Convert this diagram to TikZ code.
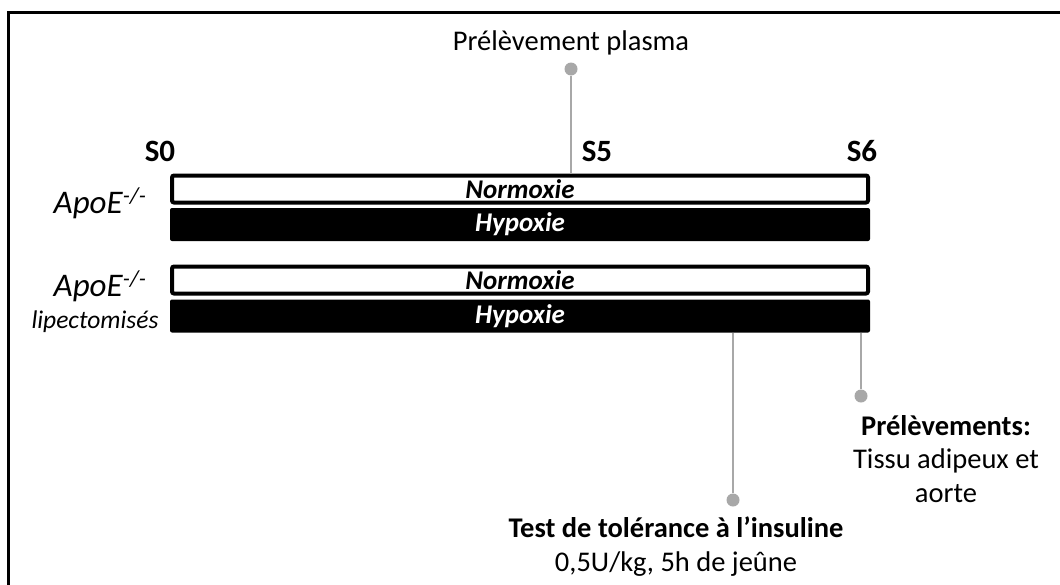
\documentclass[tikz,border=0pt]{standalone}
\usepackage{fontspec}
\setmainfont{Carlito}
\usetikzlibrary{positioning}
\definecolor{pingray}{RGB}{168,168,168}

\begin{document}
\begin{tikzpicture}[x=1pt,y=-1pt,
    whitebar/.style={draw=black,line width=4pt,fill=white,rounded corners=2pt,
      minimum width=696pt,minimum height=27pt,inner sep=0pt,
      font=\fontsize{27}{27}\selectfont\bfseries\itshape},
    blackbar/.style={fill=black,rounded corners=2pt,minimum width=700pt,
      minimum height=33pt,inner sep=0pt,text=white,
      font=\fontsize{27}{27}\selectfont\bfseries\itshape},
    week/.style={font=\fontsize{31}{31}\selectfont\bfseries},
    group/.style={font=\fontsize{33}{33}\selectfont\itshape,anchor=base},
    pindot/.style={circle,fill=pingray,inner sep=0pt,minimum size=13pt},
    pinline/.style={draw=pingray,line width=2pt},
    note/.style={align=center,font=\fontsize{28.5}{33.5}\selectfont}]
    \useasboundingbox (0,0) rectangle (1060,584);
    \draw[line width=3pt] (1062,12) -- (8,12) -- (8,586);

    % semaines
    \node[week] (s0) at (160,151) {S0};
    \node[week] (s5) at (597,151) {S5};
    \node[week] (s6) at (862,151) {S6};

    % groupes
    \node[whitebar] (normA) at (520,189) {Normoxie};
    \node[blackbar] (hypoA) at (520,224.5) {Hypoxie};
    \node[whitebar] (normB) at (520,280) {Normoxie};
    \node[blackbar] (hypoB) at (520,316) {Hypoxie};
    \node[group] (apoA) at (100,213) {ApoE\textsuperscript{-/-}};
    \node[group] (apoB) at (100,296) {ApoE\textsuperscript{-/-}};
    \node[group,font=\fontsize{25.5}{25.5}\selectfont\itshape] (lipo) at (95,328) {lipectomisés};

    % prelevements
    \node[note,anchor=base] (plasma) at (571,50) {Prélèvement plasma};
    \node[pindot] (plasmadot) at (571,69) {};
    \draw[pinline] (plasmadot) -- (plasmadot |- normA.north);

    \node[pindot] (itdot) at (733,500) {};
    \node[note,anchor=base] (itt) at (676,571)
      {\textbf{Test de tolérance à l’insuline}\\0,5U/kg, 5h de jeûne};
    \draw[pinline] (itdot) -- (itdot |- hypoB.south);

    \node[pindot] (findot) at (861,396) {};
    \node[note,anchor=base] (fin) at (946,502) {\textbf{Prélèvements:}\\Tissu adipeux et\\aorte};
    \draw[pinline] (findot) -- (findot |- hypoB.south);
\end{tikzpicture}
\end{document}
